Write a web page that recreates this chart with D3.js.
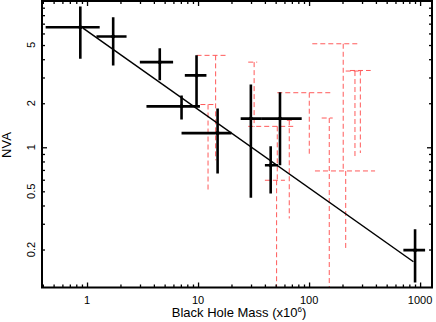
<!DOCTYPE html>
<html lang="en">
	<head>
		<meta charset="utf-8">
		<title>NVA vs Black Hole Mass</title>
		<script type="text/javascript" src="https://cdn.jsdelivr.net/npm/d3@7"></script>
		<style>
			body { margin: 0; background: #fff; }
			text { font-family: "Liberation Sans", Arial, Helvetica, sans-serif; fill: #000; }
			.axis path { display: none; }
			.axis line { stroke: #000; stroke-width: 1.3px; }
		</style>
	</head>
	<body>
		<script type="text/javascript">

			var w = 436;
			var h = 322;

			// detections (solid crosses): mass in 1e6 Msun, NVA
			var mass   = [0.87, 1.72, 4.52, 7.1, 9.69, 15.0, 29.9, 54.7, 45.1, 901];
			var massLo = [0.424, 1.216, 2.99, 3.43, 7.6, 7.1, 24.2, 37.6, 40.0, 707];
			var massHi = [1.30, 2.27, 5.96, 10.4, 11.9, 20.0, 37.6, 85.8, 52.4, 1109];
			var nva    = [6.62, 5.72, 3.82, 1.905, 3.1, 1.25, 1.57, 1.57, 0.754, 0.198];
			var nvaLo  = [4.03, 3.63, 2.87, 1.55, 1.88, 0.661, 0.451, 0.754, 0.483, 0.119];
			var nvaHi  = [9.17, 7.75, 4.76, 2.26, 4.25, 1.84, 2.69, 2.38, 1.016, 0.275];

			// limits (dashed red): bar at the top, line running down
			var limMass   = [14.4, 12.3, 32.0, 51.7, 51.0, 66.3, 100.4, 152, 213.8, 203, 259, 289.5];
			var limMassLo = [9.69, 10.5, 28.3, 28.3, 40.0, 63.1, 51.7, 129.9, 113, 106.9, 213.8, 233.8];
			var limMassHi = [17.7, 14.2, 34.1, 74.6, 60.6, 70.1, 156.6, 163.3, 393, 287.7, 300, 359];
			var limTop    = [4.25, 1.96, 3.82, 1.39, 0.595, 1.53, 2.36, 1.585, 0.689, 5.1, 3.32, 3.35];
			var limBottom = [0.815, 0.514, 1.376, 0.595, 0.1, 0.326, 0.882, 0.1, 0.2, 0.696, 0.837, 0.914];

			// fitted power law, end points
			var fitMass = [0.92, 871];
			var fitNva  = [6.52, 0.165];

			var xTickLabels = [1, 10, 100, 1000];
			var yTickLabels = [0.2, 0.5, 1, 2, 5];

			// plot box (note: "top" is taken by window.top)
			var pLeft = 42, pRight = 432, pTop = 1, pBottom = 287.5;

			var xScale = d3.scaleLog().domain([0.393, 1280]).range([pLeft, pRight]);
			var yScale = d3.scaleLog().domain([0.11, 10]).range([pBottom, pTop]);

			var svg = d3.select("body")
				.append("svg")
				.attr("width", w)
				.attr("height", h);

			svg.append("clipPath")
				.attr("id", "plotclip")
				.append("rect")
				.attr("x", pLeft).attr("y", pTop)
				.attr("width", pRight - pLeft).attr("height", pBottom - pTop);

			var plot = svg.append("g").attr("clip-path", "url(#plotclip)");

			// minor / major tick values
			var xMinor = [], yMinor = [];
			[0.1, 1, 10, 100, 1000].forEach(function(d) {
				for (var k = 2; k <= 9; k++) {
					if (d * k > 0.393 && d * k < 1280) xMinor.push(d * k);
				}
			});
			[0.1, 1].forEach(function(d) {
				for (var k = 2; k <= 9; k++) {
					if (d * k > 0.11 && d * k < 10) yMinor.push(d * k);
				}
			});
			var xMajor = xTickLabels;
			var yMajor = [1];

			function addAxis(axis, tx, ty) {
				svg.append("g")
					.attr("class", "axis")
					.attr("transform", "translate(" + tx + "," + ty + ")")
					.call(axis);
			}
			addAxis(d3.axisBottom(xScale).tickValues(xMinor).tickSize(-3).tickFormat(""), 0, pBottom);
			addAxis(d3.axisBottom(xScale).tickValues(xMajor).tickSize(-5).tickFormat(""), 0, pBottom);
			addAxis(d3.axisTop(xScale).tickValues(xMinor).tickSize(-3).tickFormat(""), 0, pTop);
			addAxis(d3.axisTop(xScale).tickValues(xMajor).tickSize(-5).tickFormat(""), 0, pTop);
			addAxis(d3.axisLeft(yScale).tickValues(yMinor).tickSize(-3).tickFormat(""), pLeft, 0);
			addAxis(d3.axisLeft(yScale).tickValues(yMajor).tickSize(-5).tickFormat(""), pLeft, 0);
			addAxis(d3.axisRight(yScale).tickValues(yMinor).tickSize(-3).tickFormat(""), pRight, 0);
			addAxis(d3.axisRight(yScale).tickValues(yMajor).tickSize(-5).tickFormat(""), pRight, 0);

			// dashed limits
			limMass.forEach(function(m, i) {
				plot.append("line")
					.attr("x1", xScale(limMassLo[i])).attr("x2", xScale(limMassHi[i]))
					.attr("y1", yScale(limTop[i])).attr("y2", yScale(limTop[i]))
					.attr("stroke", "#ff5a5a").attr("stroke-width", 1)
					.attr("stroke-dasharray", "5,3");
				plot.append("line")
					.attr("x1", xScale(m)).attr("x2", xScale(m))
					.attr("y1", yScale(limTop[i])).attr("y2", yScale(limBottom[i]))
					.attr("stroke", "#ff5a5a").attr("stroke-width", 1)
					.attr("stroke-dasharray", "5,3");
			});

			// fit line
			plot.append("line")
				.attr("x1", xScale(fitMass[0])).attr("y1", yScale(fitNva[0]))
				.attr("x2", xScale(fitMass[1])).attr("y2", yScale(fitNva[1]))
				.attr("stroke", "#000").attr("stroke-width", 1.5);

			// detections
			var pts = plot.append("g");
			mass.forEach(function(m, i) {
				pts.append("line")
					.attr("x1", xScale(massLo[i])).attr("x2", xScale(massHi[i]))
					.attr("y1", yScale(nva[i])).attr("y2", yScale(nva[i]))
					.attr("stroke", "#000").attr("stroke-width", 2.6);
				pts.append("line")
					.attr("x1", xScale(m)).attr("x2", xScale(m))
					.attr("y1", yScale(nvaLo[i])).attr("y2", yScale(nvaHi[i]))
					.attr("stroke", "#000").attr("stroke-width", 2.6);
				pts.append("circle")
					.attr("cx", xScale(m)).attr("cy", yScale(nva[i]))
					.attr("r", 2).attr("fill", "#000");
			});

			// frame
			svg.append("rect")
				.attr("x", pLeft).attr("y", pTop)
				.attr("width", pRight - pLeft).attr("height", pBottom - pTop)
				.attr("fill", "none").attr("stroke", "#000").attr("stroke-width", 2);

			// tick labels
			svg.selectAll(".xlab")
				.data(xTickLabels)
				.enter()
				.append("text")
				.attr("class", "xlab")
				.attr("x", function(d) { return xScale(d); })
				.attr("y", 303.5)
				.attr("text-anchor", "middle")
				.attr("font-size", "11px")
				.text(function(d) { return d; });

			svg.selectAll(".ylab")
				.data(yTickLabels)
				.enter()
				.append("text")
				.attr("class", "ylab")
				.attr("transform", function(d) { return "translate(35," + yScale(d) + ") rotate(-90)"; })
				.attr("text-anchor", "middle")
				.attr("font-size", "11px")
				.text(function(d) { return d; });

			// titles
			var xt = svg.append("text")
				.attr("x", 239)
				.attr("y", 316.5)
				.attr("text-anchor", "middle")
				.attr("font-size", "13px");
			xt.append("tspan").text("Black Hole Mass (x10");
			xt.append("tspan").attr("font-size", "8px").attr("dy", -5).text("6");
			xt.append("tspan").attr("dy", 5).text(")");

			svg.append("text")
				.attr("transform", "translate(10.5,145) rotate(-90)")
				.attr("text-anchor", "middle")
				.attr("font-size", "13px")
				.text("NVA");

		</script>
	</body>
</html>
